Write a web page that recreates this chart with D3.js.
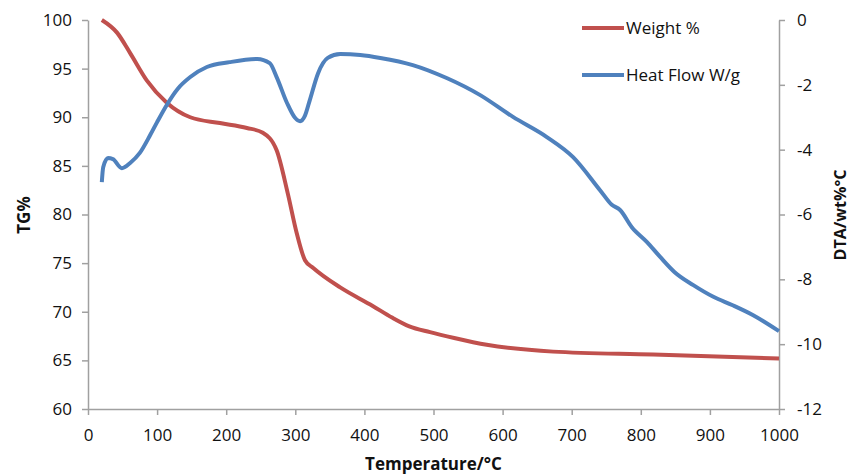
<!DOCTYPE html>
<html>
<head>
<meta charset="utf-8">
<title>TG / DTA</title>
<script src="https://cdnjs.cloudflare.com/ajax/libs/d3/7.8.5/d3.min.js"></script>
<style>
  body { margin: 0; background: #fff; }
  text { font-family: "Open Sans", "Liberation Sans", sans-serif; fill: #111; }
</style>
</head>
<body>
<script>

// weight % (left axis)
let weightT = [20, 42, 61, 85, 114, 148, 191, 230, 253, 273, 289, 302, 314, 326, 365, 412, 440, 465, 495, 530, 577, 673, 818, 1000];
let weightV = [100, 98.7, 96.6, 93.8, 91.5, 90.0, 89.4, 88.9, 88.4, 86.6, 82.2, 78.1, 75.3, 74.5, 72.5, 70.6, 69.4, 68.5, 67.9, 67.3, 66.6, 65.9, 65.6, 65.2];

// heat flow W/g (right axis)
let heatT = [20, 22, 29, 36, 49, 61, 75, 90, 100, 114, 130, 148, 172, 205, 245, 263, 273, 288, 299, 307, 314, 321, 333, 347, 365, 394, 423, 470, 519, 567, 615, 664, 702, 741, 758, 770, 787, 809, 828, 849, 876, 905, 933, 962, 1000];
let heatV = [-5.0, -4.54, -4.26, -4.29, -4.57, -4.41, -4.1, -3.55, -3.15, -2.62, -2.12, -1.76, -1.45, -1.3, -1.2, -1.33, -1.76, -2.56, -3.0, -3.12, -2.95, -2.47, -1.64, -1.17, -1.05, -1.08, -1.17, -1.39, -1.79, -2.31, -2.99, -3.61, -4.23, -5.25, -5.7, -5.86, -6.39, -6.85, -7.31, -7.78, -8.18, -8.54, -8.8, -9.1, -9.6];

let xTicks = d3.range(0, 1001, 100);
let leftTicks = d3.range(60, 101, 5);
let rightTicks = d3.range(-12, 1, 2);
let legendNames = ['Weight %', 'Heat Flow W/g'];
let colors = ['#c0504d', '#4f81bd'];

let width = 852, height = 475;
let mLeft = 88, mRight = 779, mTop = 20, mBottom = 409;

let x = d3.scaleLinear().domain([0, 1000]).range([mLeft, mRight]);
let yL = d3.scaleLinear().domain([60, 100]).range([mBottom, mTop]);
let yR = d3.scaleLinear().domain([-12, 0]).range([mBottom, mTop]);

let svg = d3.select('body').append('svg')
  .attr('width', width)
  .attr('height', height);

function styleAxis(g) {
  g.selectAll('path, line').attr('stroke', '#a0a0a0').attr('stroke-width', 1.5);
  g.selectAll('text').attr('font-size', 17).attr('fill', '#111')
    .attr('font-family', '"Open Sans", "Liberation Sans", sans-serif');
}

svg.append('g')
  .attr('transform', `translate(0,${mBottom})`)
  .call(d3.axisBottom(x).tickValues(xTicks).tickSize(6).tickSizeOuter(0).tickPadding(14).tickFormat(d3.format('d')))
  .call(styleAxis);

svg.append('g')
  .attr('transform', `translate(${mLeft},0)`)
  .call(d3.axisLeft(yL).tickValues(leftTicks).tickSize(6).tickSizeOuter(0).tickPadding(10))
  .call(styleAxis);

svg.append('g')
  .attr('transform', `translate(${mRight},0)`)
  .call(d3.axisRight(yR).tickValues(rightTicks).tickSize(6).tickSizeOuter(0).tickPadding(12)
    .tickFormat(d => d < 0 ? '-' + Math.abs(d) : d))
  .call(styleAxis);

// axis titles
svg.append('text')
  .attr('x', (mLeft + mRight) / 2).attr('y', 470)
  .attr('text-anchor', 'middle')
  .attr('font-size', 17).attr('font-weight', 'bold')
  .text('Temperature/\u00B0C');

svg.append('text')
  .attr('transform', 'translate(30,215) rotate(-90)')
  .attr('text-anchor', 'middle')
  .attr('font-size', 17).attr('font-weight', 'bold')
  .text('TG%');

svg.append('text')
  .attr('transform', 'translate(846,215) rotate(-90)')
  .attr('text-anchor', 'middle')
  .attr('font-size', 16).attr('font-weight', 'bold')
  .text('DTA/wt%\u00B0C');

// curves
let weightData = weightT.map((t, i) => [t, weightV[i]]);
let heatData = heatT.map((t, i) => [t, heatV[i]]);

let lineL = d3.line().x(d => x(d[0])).y(d => yL(d[1])).curve(d3.curveMonotoneX);
let lineR = d3.line().x(d => x(d[0])).y(d => yR(d[1])).curve(d3.curveMonotoneX);

svg.append('path')
  .attr('d', lineL(weightData))
  .attr('fill', 'none')
  .attr('stroke', colors[0])
  .attr('stroke-width', 4)
  .attr('stroke-linejoin', 'round');

svg.append('path')
  .attr('d', lineR(heatData))
  .attr('fill', 'none')
  .attr('stroke', colors[1])
  .attr('stroke-width', 4)
  .attr('stroke-linejoin', 'round');

// legend
let legend = svg.selectAll('.legend')
  .data(legendNames)
  .enter()
  .append('g')
  .attr('transform', (d, i) => `translate(582,${28 + i * 47})`);

legend.append('line')
  .attr('x1', 0).attr('x2', 42)
  .attr('stroke', (d, i) => colors[i])
  .attr('stroke-width', 4);

legend.append('text')
  .attr('x', 44).attr('y', 6)
  .attr('font-size', 17)
  .text(d => d);

</script>
</body>
</html>
